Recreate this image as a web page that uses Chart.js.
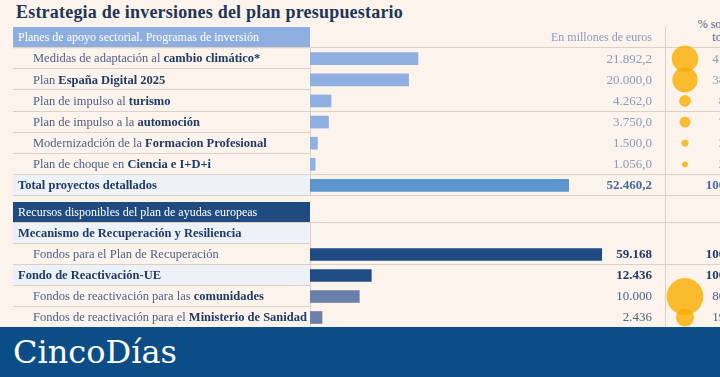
<!DOCTYPE html>
<html lang="es">
<head>
<meta charset="utf-8">
<script src="https://cdn.jsdelivr.net/npm/chart.js@4.4.1/dist/chart.umd.min.js"></script>
<style>
body { margin: 0; background: #fcf3ec; width: 720px; height: 377px; overflow: hidden; position: relative; font-family: "Liberation Serif", serif; }
#titulo { position: absolute; left: 16px; top: 2px; font-weight: bold; font-size: 18px; letter-spacing: 0.2px; color: #1d3557; white-space: nowrap; }
#pct { position: absolute; left: 683px; top: 18px; width: 80px; text-align: center; font-size: 12px; line-height: 13px; color: #4d6189; }
canvas { position: absolute; }
#vertical { position: absolute; left: 665px; top: 27px; width: 1px; height: 300px; background: #ddd0c6; }
#pie { position: absolute; left: 0; top: 327px; width: 720px; height: 50px; background: #0b4d87; }
#pie span { position: absolute; left: 13px; top: 6px; font-family: "DejaVu Serif", serif; font-size: 32px; color: #fff; }
</style>
</head>
<body>
<div id="titulo">Estrategia de inversiones del plan presupuestario</div>
<div id="pct">% sobre el<br>total</div>
<canvas id="barrasA" width="665" height="169" style="left:0;top:27px"></canvas>
<canvas id="burbujasA" width="55" height="169" style="left:665px;top:27px"></canvas>
<canvas id="barrasB" width="665" height="126" style="left:0;top:202px"></canvas>
<canvas id="burbujasB" width="55" height="126" style="left:665px;top:202px"></canvas>
<div id="vertical"></div>
<div id="pie"><span>CincoDías</span></div>
<script>
// Planes de apoyo sectorial
var filasA = ['Planes de apoyo sectorial. Programas de inversión', 'Medidas de adaptación al ', 'Plan ', 'Plan de impulso al ', 'Plan de impulso a la ', 'Modernizadción de la ', 'Plan de choque en ', 'Total proyectos detallados'];
var negritaA = ['', 'cambio climático*', 'España Digital 2025', 'turismo', 'automoción', 'Formacion Profesional', 'Ciencia e I+D+i', ''];
var importesA = [null, 21892.2, 20000.0, 4262.0, 3750.0, 1500.0, 1056.0, 52460.2];
var porcentajesA = [null, 41.7, 38.1, 8.1, 7.1, 2.9, 2.0, 100.0];
var burbujasA = [null, 41.7, 38.1, 8.1, 7.1, 2.9, 2.0, null];

// Recursos del plan de ayudas europeas
var filasB = ['Recursos disponibles del plan de ayudas europeas', 'Mecanismo de Recuperación y Resiliencia', 'Fondos para el Plan de Recuperación', 'Fondo de Reactivación-UE', 'Fondos de reactivación para las ', 'Fondos de reactivación para el '];
var negritaB = ['', '', '', '', 'comunidades', 'Ministerio de Sanidad'];
var importesB = [null, null, 59168, 12436, 10000, 2436];
var porcentajesB = [null, null, 100, 100, 80.4, 19.6];
var burbujasB = [null, null, null, null, 80.4, 19.6];

// estilos
var tiposA = ['cab1', 'item', 'item', 'item', 'item', 'item', 'item', 'total'];
var tiposB = ['cab2', 'sub', 'item', 'sub', 'item', 'item'];
var coloresA = ['#8fb0e0', '#8fb0e0', '#8fb0e0', '#8fb0e0', '#8fb0e0', '#8fb0e0', '#8fb0e0', '#5b95cf'];
var coloresB = ['#1f4d83', '#1f4d83', '#1f4d83', '#1f4d83', '#6a7fa9', '#6a7fa9'];
var lineasA = [true, false, false, true, false, false, true, true];
var lineasB = [true, false, true, false, false, null];
var valorA = ['', 'suave', 'suave', 'suave', 'suave', 'suave', 'suave', 'total'];
var valorB = ['', '', 'fuerte', 'fuerte', 'normal', 'normal'];

var FUENTE = '"Liberation Serif", serif';
var LINEA = '#ddd0c6';
var fondos = { cab1: '#8eaedf', cab2: '#1f4b80', total: '#edf1f8', sub: '#edf1f8' };
var estilos = {
  suave: ['normal', '#8a9bbd'], total: ['bold', '#4a6c9c'],
  fuerte: ['bold', '#1f3a66'], normal: ['normal', '#4d6189']
};

function formato(v, dec) {
  var p = v.toFixed(dec).split('.');
  p[0] = p[0].replace(/\B(?=(\d{3})+(?!\d))/g, '.');
  return p.join(',');
}

function alto(esc) { return esc.getPixelForValue(1) - esc.getPixelForValue(0); }

var tabla = {
  id: 'tabla',
  beforeDatasetsDraw: function (chart, args, o) {
    var ctx = chart.ctx, y = chart.scales.y, h = alto(y);
    ctx.save();
    ctx.textBaseline = 'middle';
    for (var i = 0; i < o.filas.length; i++) {
      var yc = y.getPixelForValue(i), top = yc - h / 2, tipo = o.tipos[i];
      if (fondos[tipo]) { ctx.fillStyle = fondos[tipo]; ctx.fillRect(13, top, 297, h); }
      if (o.lineas[i] !== null) {
        ctx.strokeStyle = LINEA; ctx.lineWidth = 1;
        var yl = Math.round(top + h) - 0.5;
        ctx.beginPath(); ctx.moveTo(13, yl); ctx.lineTo(o.lineas[i] ? 665 : 310, yl); ctx.stroke();
      }
      if (tipo === 'cab1' || tipo === 'cab2') {
        ctx.font = 'normal 12px ' + FUENTE; ctx.fillStyle = '#fff';
        ctx.fillText(o.filas[i], 18, yc + 0.5);
      } else if (tipo === 'item') {
        ctx.font = 'normal 12.5px ' + FUENTE; ctx.fillStyle = '#4d6189';
        ctx.fillText(o.filas[i], 33, yc + 0.5);
        var w = ctx.measureText(o.filas[i]).width;
        ctx.font = 'bold 12.5px ' + FUENTE; ctx.fillStyle = '#1f3a66';
        ctx.fillText(o.negrita[i], 33 + w, yc + 0.5);
      } else {
        ctx.font = 'bold 12.5px ' + FUENTE; ctx.fillStyle = '#1f3a66';
        ctx.fillText(o.filas[i], 18, yc + 0.5);
      }
    }
    ctx.strokeStyle = LINEA;
    ctx.beginPath(); ctx.moveTo(310.5, y.getPixelForValue(1) - h / 2); ctx.lineTo(310.5, chart.height); ctx.stroke();
    ctx.restore();
  },
  afterDatasetsDraw: function (chart, args, o) {
    var ctx = chart.ctx, y = chart.scales.y;
    ctx.save();
    ctx.textBaseline = 'middle'; ctx.textAlign = 'right';
    if (o.unidades) {
      ctx.font = 'normal 12px ' + FUENTE; ctx.fillStyle = '#8a9bbd';
      ctx.fillText(o.unidades, 652, y.getPixelForValue(0) + 0.5);
    }
    for (var i = 0; i < o.importes.length; i++) {
      if (o.importes[i] === null) continue;
      var e = estilos[o.estilo[i]];
      ctx.font = e[0] + ' 13px ' + FUENTE; ctx.fillStyle = e[1];
      ctx.fillText(formato(o.importes[i], o.decimales), 652, y.getPixelForValue(i) + 0.5);
    }
    ctx.restore();
  }
};

var columna = {
  id: 'columna',
  beforeDatasetsDraw: function (chart, args, o) {
    var ctx = chart.ctx, y = chart.scales.y, h = alto(y);
    ctx.save();
    ctx.strokeStyle = LINEA;
    for (var i = 0; i < o.lineas.length; i++) {
      if (!o.lineas[i]) continue;
      var yl = Math.round(y.getPixelForValue(i) + h / 2) - 0.5;
      ctx.beginPath(); ctx.moveTo(0, yl); ctx.lineTo(chart.width, yl); ctx.stroke();
    }
    ctx.textBaseline = 'middle'; ctx.textAlign = 'right';
    for (i = 0; i < o.porcentajes.length; i++) {
      if (o.porcentajes[i] === null) continue;
      var e = estilos[o.estilo[i]];
      ctx.font = e[0] + ' 13px ' + FUENTE; ctx.fillStyle = e[1];
      ctx.fillText(formato(o.porcentajes[i], 1), 70, y.getPixelForValue(i) + 0.5);
    }
    ctx.restore();
  }
};

function seccion(idBarras, idBurbujas, filas, negrita, tipos, importes, colores, lineas, estilo, porcentajes, burbujas, decimales, unidades) {
  new Chart(document.getElementById(idBarras), {
    type: 'bar',
    data: {
      labels: filas,
      datasets: [{ data: importes, backgroundColor: colores, barThickness: 12, borderWidth: 0 }]
    },
    options: {
      indexAxis: 'y', responsive: false, animation: false, events: [],
      layout: { padding: { left: 310, right: 0, top: 0, bottom: 0 } },
      scales: {
        x: { display: false, min: 0, max: 72000 },
        y: { display: false }
      },
      plugins: {
        legend: { display: false }, tooltip: { enabled: false },
        tabla: { filas: filas, negrita: negrita, tipos: tipos, lineas: lineas, importes: importes, estilo: estilo, decimales: decimales, unidades: unidades }
      }
    },
    plugins: [tabla]
  });

  var puntos = [];
  burbujas.forEach(function (p, i) {
    if (p !== null) puntos.push({ x: '%', y: filas[i], r: 2.05 * Math.sqrt(p) });
  });
  new Chart(document.getElementById(idBurbujas), {
    type: 'bubble',
    data: {
      datasets: [{ data: puntos, backgroundColor: 'rgba(250,172,0,0.8)', borderWidth: 0, clip: false }]
    },
    options: {
      responsive: false, animation: false, events: [],
      layout: { autoPadding: false, padding: { left: 0, right: 15, top: 0, bottom: 0 } },
      scales: {
        x: { type: 'category', labels: ['%'], offset: true, display: false },
        y: { type: 'category', labels: filas, offset: true, display: false, min: 0, max: filas.length - 1 }
      },
      plugins: {
        legend: { display: false }, tooltip: { enabled: false },
        columna: { lineas: lineas, porcentajes: porcentajes, estilo: estilo }
      }
    },
    plugins: [columna]
  });
}

seccion('barrasA', 'burbujasA', filasA, negritaA, tiposA, importesA, coloresA, lineasA, valorA, porcentajesA, burbujasA, 1, 'En millones de euros');
seccion('barrasB', 'burbujasB', filasB, negritaB, tiposB, importesB, coloresB, lineasB, valorB, porcentajesB, burbujasB, 0, '');
</script>
</body>
</html>
